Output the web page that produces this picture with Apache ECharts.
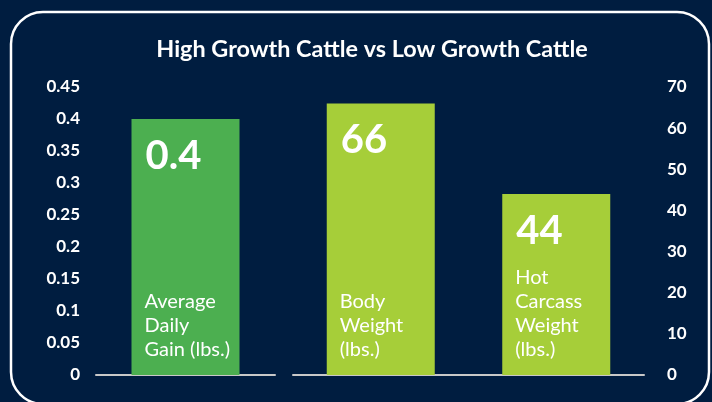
<!DOCTYPE html>
<html>
<head>
<meta charset="utf-8">
<script src="https://cdn.jsdelivr.net/npm/echarts@6/dist/echarts.min.js"></script>
<style>
html, body { margin: 0; padding: 0; background: #001d40; }
#chart { width: 712px; height: 402px; }
</style>
</head>
<body>
<div id="chart"></div>
<script>
'use strict';

var gainCats = ['Average\nDaily\nGain (lbs.)'],
    gainVals = [0.4],
    weightCats = ['Body\nWeight\n(lbs.)', 'Hot\nCarcass\nWeight\n(lbs.)'],
    weightVals = [66, 44];

var fontName = 'Lato';

var chart = echarts.init(document.getElementById('chart'));

function valueLabel() {
    return {
        show: true,
        position: 'insideTopLeft',
        distance: 0,
        padding: [17, 0, 0, 14],
        color: '#fff',
        fontFamily: fontName,
        fontWeight: 'bold',
        fontSize: 40
    };
}

function nameLabel() {
    return {
        show: true,
        position: 'insideBottomLeft',
        distance: 0,
        padding: [0, 0, 13, 13],
        formatter: '{b}',
        color: '#fff',
        fontFamily: fontName,
        fontSize: 20,
        lineHeight: 24
    };
}

var option = {
    backgroundColor: '#001d40',
    animation: false,
    title: {
        text: 'High Growth Cattle vs Low Growth Cattle',
        left: 367,
        top: 33,
        textAlign: 'center',
        textStyle: {
            color: '#fff',
            fontFamily: fontName,
            fontWeight: 'bold',
            fontSize: 23.4
        }
    },
    graphic: [{
        type: 'rect',
        shape: { x: 11, y: 12, width: 698, height: 392, r: 32 },
        style: { fill: 'none', stroke: '#fff', lineWidth: 2.5 },
        silent: true
    }],
    grid: [{
        left: 96,
        width: 179,
        top: 87,
        bottom: 27,
        containLabel: false
    }, {
        left: 293,
        right: 68,
        top: 87,
        bottom: 27,
        containLabel: false
    }],
    xAxis: [{
        type: 'category',
        gridIndex: 0,
        data: gainCats,
        axisLine: { show: true, lineStyle: { color: '#c8c8c8', width: 2 } },
        axisTick: { show: false },
        axisLabel: { show: false }
    }, {
        type: 'category',
        gridIndex: 1,
        data: weightCats,
        axisLine: { show: true, lineStyle: { color: '#c8c8c8', width: 2 } },
        axisTick: { show: false },
        axisLabel: { show: false }
    }],
    yAxis: [{
        type: 'value',
        gridIndex: 0,
        position: 'left',
        min: 0,
        max: 0.45,
        interval: 0.05,
        axisLine: { show: false },
        axisTick: { show: false },
        splitLine: { show: false },
        axisLabel: {
            margin: 16,
            color: '#fff',
            fontFamily: fontName,
            fontWeight: 'bold',
            fontSize: 17
        }
    }, {
        type: 'value',
        gridIndex: 1,
        position: 'right',
        min: 0,
        max: 70,
        interval: 10,
        axisLine: { show: false },
        axisTick: { show: false },
        splitLine: { show: false },
        axisLabel: {
            margin: 23,
            color: '#fff',
            fontFamily: fontName,
            fontWeight: 'bold',
            fontSize: 17
        }
    }],
    series: [{
        name: 'gain',
        type: 'bar',
        xAxisIndex: 0,
        yAxisIndex: 0,
        barWidth: 108,
        data: gainVals,
        itemStyle: { color: '#4caf50' },
        label: valueLabel()
    }, {
        name: 'gainName',
        type: 'bar',
        xAxisIndex: 0,
        yAxisIndex: 0,
        barWidth: 108,
        barGap: '-100%',
        data: gainVals,
        itemStyle: { color: 'rgba(0,0,0,0)' },
        label: nameLabel()
    }, {
        name: 'weight',
        type: 'bar',
        xAxisIndex: 1,
        yAxisIndex: 1,
        barWidth: 108,
        data: weightVals,
        itemStyle: { color: '#a6ce39' },
        label: valueLabel()
    }, {
        name: 'weightName',
        type: 'bar',
        xAxisIndex: 1,
        yAxisIndex: 1,
        barWidth: 108,
        barGap: '-100%',
        data: weightVals,
        itemStyle: { color: 'rgba(0,0,0,0)' },
        label: nameLabel()
    }]
};

chart.setOption(option);
</script>
</body>
</html>
